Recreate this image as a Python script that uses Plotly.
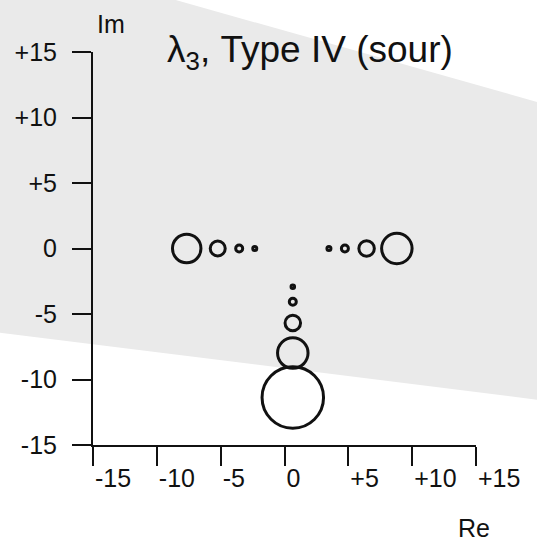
import plotly.graph_objects as go

# ---- data ----
re_vals = [-7.66, -5.23, -3.55, -2.33, 3.48, 4.73, 6.43, 8.80,
           0.65, 0.65, 0.65, 0.65, 0.65]
im_vals = [0, 0, 0, 0, 0, 0, 0, 0,
           -2.92, -4.06, -5.69, -7.98, -11.37]
magnitude = [28.5, 15, 7, 4, 4, 7, 15.5, 30.5,
             3.5, 7, 15.5, 30.5, 61.5]

tick_vals = [-15, -10, -5, 0, 5, 10, 15]
tick_text = ["-15", "-10", "-5", "0", "+5", "+10", "+15"]

title_text = "λ<sub>3</sub>, Type IV (sour)"

# shaded background band (paper coordinates of the plot domain)
shade_x = [-0.26, 0.188, 1.17, 1.17, -0.26]
shade_y = [1.14, 1.14, 0.87, 0.114, 0.288]

FONT = "Liberation Sans, Arial, sans-serif"
INK = "#111111"

fig = go.Figure()
fig.add_trace(go.Scatter(
    x=re_vals, y=im_vals, mode="markers",
    marker=dict(symbol="circle-open", size=magnitude, opacity=1,
                color=INK, line=dict(width=3, color=INK)),
    hoverinfo="skip", showlegend=False, cliponaxis=False,
))

path = "M " + " L ".join(f"{x},{y}" for x, y in zip(shade_x, shade_y)) + " Z"
fig.add_shape(type="path", path=path, xref="paper", yref="paper",
              fillcolor="rgb(234,234,234)", line=dict(width=0), layer="below")

axis_common = dict(
    range=[-15, 15], tickvals=tick_vals, ticktext=tick_text,
    showgrid=False, zeroline=False, showline=True, linewidth=2, linecolor=INK,
    ticks="outside", ticklen=19, tickwidth=2, tickcolor=INK,
    tickfont=dict(family=FONT, size=25, color=INK),
    fixedrange=True,
)
fig.update_xaxes(**axis_common, ticklabelposition="outside right",
                 ticklabelstandoff=10)
fig.update_yaxes(**axis_common, ticklabelstandoff=10)

fig.add_annotation(text=title_text, xref="paper", yref="paper",
                   x=0.188, y=1.0, xanchor="left", yanchor="middle",
                   showarrow=False, font=dict(family=FONT, size=37, color=INK))
fig.add_annotation(text="Im", xref="paper", yref="paper",
                   x=0.005, y=1.072, xanchor="left", yanchor="middle",
                   showarrow=False, font=dict(family=FONT, size=25, color=INK))
fig.add_annotation(text="Re", xref="paper", yref="paper",
                   x=0.948, y=-0.212, xanchor="left", yanchor="middle",
                   showarrow=False, font=dict(family=FONT, size=25, color=INK))

fig.update_layout(
    width=537, height=541,
    margin=dict(l=93, r=61, t=52, b=96),
    paper_bgcolor="white", plot_bgcolor="rgba(0,0,0,0)",
    showlegend=False,
)

fig.write_html("out.html", config={"displayModeBar": False},
               post_script="document.body.style.margin='0';")
